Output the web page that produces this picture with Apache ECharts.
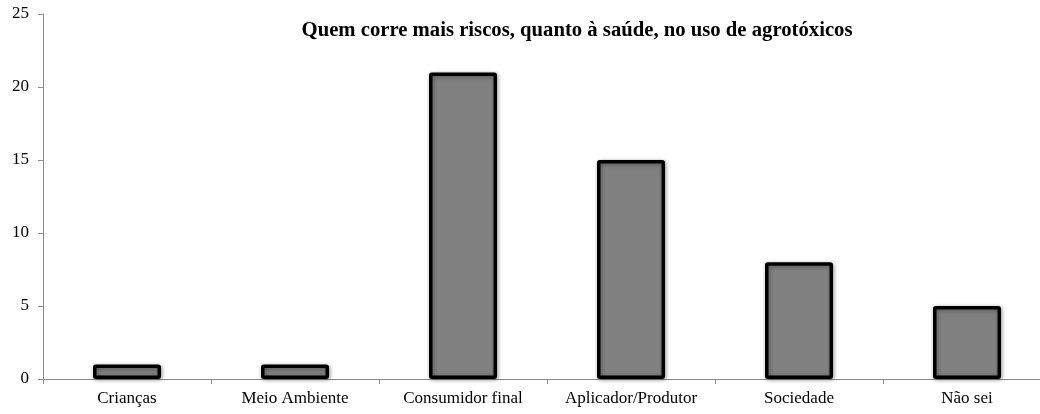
<!DOCTYPE html>
<html>
<head>
<meta charset="utf-8">
<script src="https://cdn.jsdelivr.net/npm/echarts@6/dist/echarts.min.js"></script>
<style>
  html, body { margin: 0; padding: 0; background: #ffffff; overflow: hidden; }
  /* plot area runs a little past the right edge of the window */
  #chart { width: 1051px; height: 414px; }
</style>
</head>
<body>
<div id="chart"></div>
<script>
// Who runs the greatest health risks from pesticide use
const categories = ['Crianças', 'Meio Ambiente', 'Consumidor final', 'Aplicador/Produtor', 'Sociedade', 'Não sei'];
const counts = [1, 1, 21, 15, 8, 5];
const yTicks = [0, 5, 10, 15, 20, 25];

const serif = '"Liberation Serif", "DejaVu Serif", serif';

const chart = echarts.init(document.getElementById('chart'), null, { renderer: 'canvas' });
chart.setOption({
  animation: false,
  backgroundColor: '#ffffff',
  title: {
    text: 'Quem corre mais riscos, quanto à saúde, no uso de agrotóxicos',
    left: 572,
    top: 15,
    textAlign: 'center',
    textStyle: { fontFamily: serif, fontSize: 20.7, fontWeight: 'bold', color: '#000' }
  },
  grid: { left: 43, top: 14, right: 0, bottom: 35, containLabel: false },
  xAxis: {
    type: 'category',
    data: categories,
    axisLine: { lineStyle: { color: '#8c8c8c', width: 1 } },
    axisTick: { show: true, alignWithLabel: false, length: 5, lineStyle: { color: '#8c8c8c' } },
    axisLabel: { interval: 0, fontFamily: serif, fontSize: 17, color: '#000', margin: 11 }
  },
  yAxis: {
    type: 'value',
    min: yTicks[0],
    max: yTicks[yTicks.length - 1],
    interval: 5,
    axisLine: { show: true, lineStyle: { color: '#8c8c8c', width: 1 } },
    axisTick: { show: true, length: 5, lineStyle: { color: '#8c8c8c' } },
    splitLine: { show: false },
    axisLabel: { fontFamily: serif, fontSize: 17, color: '#000', margin: 14 }
  },
  series: [{
    type: 'bar',
    data: counts,
    barWidth: 68,
    itemStyle: {
      color: '#808080',
      borderColor: '#000000',
      borderWidth: 3.5,
      borderRadius: 1,
      shadowBlur: 4,
      shadowColor: 'rgba(0,0,0,0.35)',
      shadowOffsetX: 1,
      shadowOffsetY: 1
    }
  }]
});
</script>
</body>
</html>
